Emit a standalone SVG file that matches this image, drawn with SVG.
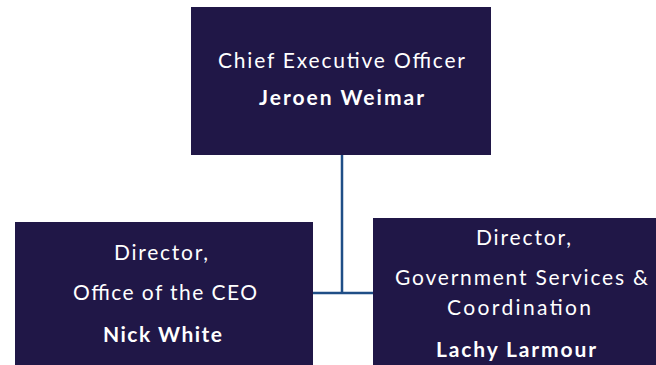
<svg xmlns="http://www.w3.org/2000/svg" width="656" height="365" viewBox="0 0 656 365">
<style>
.box{fill:#201747}
.t{font-family:Lato,"Open Sans","Liberation Sans",sans-serif;font-size:21px;fill:#ffffff;text-anchor:middle}
.b{font-weight:bold}
.c{fill:none;stroke:#1F4E86;stroke-width:2.5}
</style>
<rect width="656" height="365" fill="#ffffff"/>
<g id="connectors">
<path class="c" d="M342 155V293M313 293H373"/>
</g>
<g id="ceo">
<rect class="box" x="191" y="7" width="300" height="148"/>
<text class="t" x="341.5" y="68" textLength="247" lengthAdjust="spacing">Chief Executive Officer</text>
<text class="t b" x="341.5" y="105" textLength="165" lengthAdjust="spacing">Jeroen Weimar</text>
</g>
<g id="office">
<rect class="box" x="15" y="222" width="298" height="143"/>
<text class="t" x="161" y="260" textLength="94" lengthAdjust="spacing">Director,</text>
<text class="t" x="165" y="300" textLength="184" lengthAdjust="spacing">Office of the CEO</text>
<text class="t b" x="162.5" y="342" textLength="119" lengthAdjust="spacing">Nick White</text>
</g>
<g id="govt">
<rect class="box" x="373" y="218" width="283" height="147"/>
<text class="t" x="523.5" y="245" textLength="95" lengthAdjust="spacing">Director,</text>
<text class="t" x="521.5" y="285" textLength="253" lengthAdjust="spacing">Government Services &amp;</text>
<text class="t" x="519" y="315" textLength="144" lengthAdjust="spacing">Coordination</text>
<text class="t b" x="516" y="357" textLength="160" lengthAdjust="spacing">Lachy Larmour</text>
</g>
</svg>
